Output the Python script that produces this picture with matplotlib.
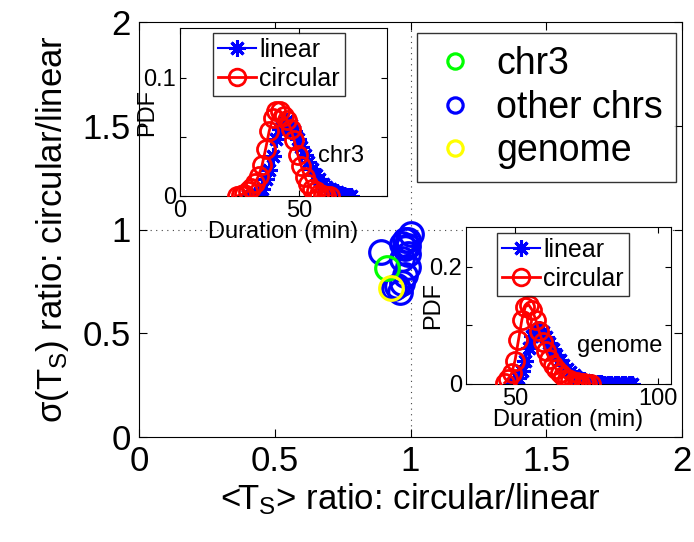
import matplotlib
matplotlib.use("Agg")
import matplotlib.pyplot as plt
from matplotlib.lines import Line2D

plt.rcParams['font.family'] = ['Liberation Sans', 'DejaVu Sans']
plt.rcParams['mathtext.fontset'] = 'custom'
plt.rcParams['mathtext.rm'] = 'Liberation Sans'
plt.rcParams['mathtext.it'] = 'Liberation Sans:italic'

# ---- main scatter data ----
other_x = [1.00, 0.99, 0.97, 0.98, 0.89, 0.99, 0.97, 0.99, 0.98, 0.97, 0.95, 0.94, 0.96, 0.98, 0.99]
other_y = [0.98, 0.95, 0.93, 0.91, 0.89, 0.88, 0.86, 0.82, 0.78, 0.74, 0.73, 0.72, 0.70, 0.95, 0.92]
chr3_x = [0.915]
chr3_y = [0.815]
genome_x = [0.928]
genome_y = [0.716]

# ---- inset chr3 ----
chr3_lin_t = [28.5, 30, 31.5, 33, 34.5, 36, 37.5, 39, 40.5, 42, 43.5, 45, 46.5, 48, 49.5,
              51, 52.5, 54, 55.5, 57, 58.5, 60, 61.5, 63, 64.5, 66, 67.5, 69, 70.5, 72]
chr3_lin_p = [0, 0, 0.001, 0.002, 0.006, 0.014, 0.022, 0.034, 0.048, 0.057,
              0.062, 0.063, 0.060, 0.055, 0.048, 0.041, 0.035, 0.029, 0.023, 0.018,
              0.014, 0.010, 0.008, 0.006, 0.004, 0.003, 0.002, 0.001, 0, 0]
chr3_cir_t = [24, 25.5, 27, 28.5, 30, 31.5, 33, 34.5, 36, 37.5, 39, 40.5, 42, 43.5,
              45, 46.5, 48, 49.5, 51, 52.5, 54, 55.5, 57, 58.5, 60, 61.5, 63]
chr3_cir_p = [0.000, 0.001, 0.002, 0.004, 0.007, 0.011, 0.017, 0.026, 0.040, 0.055,
              0.066, 0.072, 0.072, 0.068, 0.064, 0.057, 0.047, 0.035, 0.025, 0.016,
              0.010, 0.006, 0.004, 0.002, 0.001, 0.000, 0.000]

# ---- inset genome ----
gen_lin_t = [48.9, 50.1, 51.3, 52.5, 53.7, 54.9, 56.1, 57.3, 58.5, 59.7, 60.9, 62.1,
             63.3, 64.5, 65.7, 66.9, 68.1, 69.3, 70.5, 71.7, 72.9, 74.1, 75.3, 76.5,
             77.7, 78.9, 80.1, 81.3, 82.5, 83.7, 84.9, 86.1, 87.3, 88.5, 89.7, 90.9]
gen_lin_p = [0.000, 0.003, 0.010, 0.022, 0.040, 0.062, 0.082, 0.093, 0.094, 0.088,
             0.080, 0.070, 0.060, 0.050, 0.041, 0.033, 0.026, 0.020, 0.015, 0.011,
             0.008, 0.006, 0.004, 0.003, 0.002, 0.001, 0.001, 0, 0, 0, 0, 0, 0, 0, 0, 0]
gen_cir_t = [46.5, 47.7, 48.9, 50.1, 51.3, 52.5, 53.7, 54.9, 56.1, 57.3, 58.5, 59.7,
             60.9, 62.1, 63.3, 64.5, 65.7, 66.9, 68.1, 69.3, 70.5, 71.7, 72.9, 74.1, 75.3, 76.5]
gen_cir_p = [0.002, 0.008, 0.018, 0.040, 0.075, 0.110, 0.132, 0.135, 0.126, 0.110,
             0.090, 0.072, 0.056, 0.043, 0.033, 0.025, 0.018, 0.013, 0.009, 0.006,
             0.004, 0.003, 0.002, 0.001, 0.000, 0.000]

W, H = 694, 542
fig = plt.figure(figsize=(W / 100, H / 100), dpi=100)

def rect(l, t, r, b):
    return [l / W, 1 - b / H, (r - l) / W, (b - t) / H]

ax = fig.add_axes(rect(139, 22, 682, 437))
ax.axvline(1, color='#444444', ls=(0, (1, 4)), lw=0.8, zorder=0)
ax.axhline(1, color='#444444', ls=(0, (1, 4)), lw=0.8, zorder=0)
mk = dict(ls='none', marker='o', mfc='none', ms=17, mew=2.3)
ax.plot(other_x, other_y, mec='#0000ff', **mk)
ax.plot(chr3_x, chr3_y, mec='#00ff00', **mk)
ax.plot(genome_x, genome_y, mec='#ffff00', **mk)
ax.set_xlim(0, 2)
ax.set_ylim(0, 2)
ax.set_xticks([0, 0.5, 1, 1.5, 2])
ax.set_xticklabels(['0', '0.5', '1', '1.5', '2'])
ax.set_yticks([0, 0.5, 1, 1.5, 2])
ax.set_yticklabels(['0', '0.5', '1', '1.5', '2'])
ax.tick_params(direction='in', top=True, right=True, labelsize=25, length=6, width=0.8, pad=6)
ax.set_xlabel(r'<T$_\mathrm{S}$> ratio: circular/linear', fontsize=25, labelpad=2)
ax.set_ylabel(r'σ(T$_\mathrm{S}$) ratio: circular/linear', fontsize=25, labelpad=8)

handles = [Line2D([], [], ls='none', marker='o', mfc='none', ms=11, mew=2.3, mec=c)
           for c in ['#00ff00', '#0000ff', '#ffff00']]
leg = ax.legend(handles, ['chr3', 'other chrs', 'genome'], loc='upper right',
                bbox_to_anchor=(676 / W, 1 - 33 / H), bbox_transform=fig.transFigure,
                fontsize=27, frameon=True, fancybox=False, edgecolor='k',
                handletextpad=0.45, labelspacing=0.2, borderpad=0.35, handlelength=1.3,
                borderaxespad=0)
leg.get_frame().set_linewidth(1.0)

def inset(r, lt, lp, ct, cp, xlim, ylim, xt, yt, ytl, note, note_xy, leg_anchor):
    a = fig.add_axes(rect(*r))
    a.plot(lt, lp, color='#0000ff', lw=1.5, marker=(8, 2, 0), ms=12, mew=2.2, zorder=2)
    a.plot(ct, cp, color='#ff0000', lw=2.0, marker='o', mfc='none', ms=13, mew=2.0, zorder=3)
    a.set_xlim(*xlim)
    a.set_ylim(*ylim)
    a.set_xticks(xt)
    a.set_yticks(yt)
    a.set_yticklabels(ytl)
    a.tick_params(direction='in', top=True, right=True, labelsize=17, length=4, width=0.8, pad=3)
    a.set_xlabel('Duration (min)', fontsize=17, labelpad=-1)
    a.set_ylabel('PDF', fontsize=17, labelpad=-11)
    a.text(note_xy[0], note_xy[1], note, fontsize=17, transform=a.transAxes, ha='left', va='center')
    hl = [Line2D([], [], color='#0000ff', lw=1.5, marker=(8, 2, 0), ms=12, mew=2.2),
          Line2D([], [], color='#ff0000', lw=2.0, marker='o', mfc='none', ms=12, mew=2.0)]
    lg = a.legend(hl, ['linear', 'circular'], loc='upper left', bbox_to_anchor=leg_anchor,
                  bbox_transform=fig.transFigure, fontsize=18, fancybox=False, edgecolor='k',
                  handlelength=1.5, handletextpad=0.15, labelspacing=0.2, borderpad=0.2,
                  borderaxespad=0)
    lg.get_frame().set_linewidth(1.0)
    return a

inset((180, 28, 387, 196), chr3_lin_t, chr3_lin_p, chr3_cir_t, chr3_cir_p,
      (0, 87), (0, 0.142), [0, 50], [0, 0.05, 0.1], ['0', '', '0.1'],
      'chr3', (0.665, 0.24), (213 / W, 1 - 33 / H))
inset((466, 227, 671, 384), gen_lin_t, gen_lin_p, gen_cir_t, gen_cir_p,
      (33, 104.5), (0, 0.268), [50, 100], [0, 0.1, 0.2], ['0', '', '0.2'],
      'genome', (0.54, 0.24), (497 / W, 1 - 233 / H))

fig.savefig('out.png', dpi=100)
